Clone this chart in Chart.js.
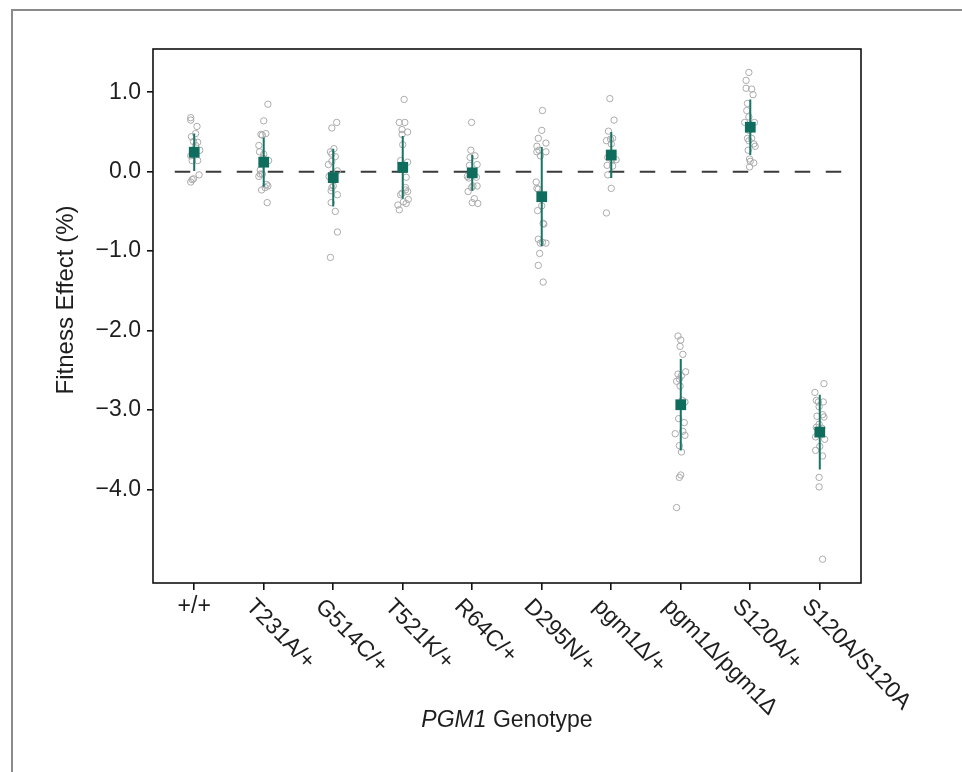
<!DOCTYPE html>
<html>
<head>
<meta charset="utf-8">
<script src="https://cdn.jsdelivr.net/npm/chart.js@4.4.1/dist/chart.umd.min.js"></script>
<style>
  html, body { margin: 0; padding: 0; background: #fff; }
  #wrap { position: relative; width: 962px; height: 772px; }
  #frame { position: absolute; left: 11px; top: 9px; right: 0; bottom: 0; border-top: 2px solid #8a8a8a; border-left: 2px solid #8a8a8a; pointer-events: none; }
  canvas { position: absolute; left: 0; top: 0; }
</style>
</head>
<body>
<div id="wrap">
  <canvas id="c" width="962" height="772"></canvas>
  <div id="frame"></div>
</div>
<script>
// ---- Data ----
const genotypes = ['+/+', 'T231A/+', 'G514C/+', 'T521K/+', 'R64C/+', 'D295N/+', 'pgm1Δ/+', 'pgm1Δ/pgm1Δ', 'S120A/+', 'S120A/S120A'];
const means = [0.245, 0.12, -0.075, 0.055, -0.015, -0.315, 0.21, -2.935, 0.56, -3.28];
const sds   = [0.235, 0.31, 0.365, 0.395, 0.225, 0.625, 0.29, 0.575, 0.35, 0.47];
const yTicks = [1, 0, -1, -2, -3, -4];

// replicate values per genotype
const replicates = [
  [0.68, 0.65, 0.57, 0.48, 0.44, 0.38, 0.37, 0.33, 0.27, 0.20, 0.14, 0.14, -0.04, -0.09, -0.10, -0.13],
  [0.85, 0.64, 0.48, 0.47, 0.46, 0.33, 0.25, 0.22, 0.17, 0.14, 0.02, -0.03, -0.06, -0.03, -0.16, -0.18, -0.20, -0.23, -0.39],
  [0.62, 0.55, 0.29, 0.25, 0.22, 0.19, 0.13, 0.09, 0.01, -0.06, -0.06, -0.18, -0.20, -0.24, -0.29, -0.39, -0.50, -0.76, -1.08],
  [0.91, 0.62, 0.62, 0.53, 0.50, 0.47, 0.34, 0.14, 0.12, -0.07, -0.20, -0.23, -0.25, -0.27, -0.29, -0.35, -0.38, -0.40, -0.42, -0.48],
  [0.62, 0.27, 0.20, 0.18, 0.09, 0.08, -0.06, -0.08, -0.07, -0.18, -0.18, -0.20, -0.25, -0.34, -0.39, -0.40],
  [0.77, 0.52, 0.42, 0.36, 0.32, 0.27, 0.25, 0.25, 0.20, -0.13, -0.21, -0.22, -0.43, -0.49, -0.65, -0.66, -0.85, -0.89, -0.90, -0.90, -1.03, -1.18, -1.39],
  [0.92, 0.65, 0.51, 0.42, 0.39, 0.41, 0.35, 0.18, 0.15, 0.15, 0.08, 0.07, -0.04, -0.21, -0.52],
  [-2.07, -2.12, -2.20, -2.30, -2.52, -2.55, -2.57, -2.61, -2.64, -2.70, -2.88, -2.90, -3.11, -3.16, -3.27, -3.30, -3.32, -3.45, -3.53, -3.82, -3.85, -4.23],
  [1.25, 1.15, 1.05, 1.04, 0.97, 0.86, 0.77, 0.69, 0.62, 0.62, 0.52, 0.42, 0.42, 0.39, 0.35, 0.32, 0.27, 0.16, 0.13, 0.11, 0.06],
  [-2.67, -2.78, -2.88, -2.90, -2.90, -2.96, -3.06, -3.08, -3.09, -3.18, -3.22, -3.23, -3.34, -3.37, -3.46, -3.51, -3.58, -3.85, -3.97, -4.88]
];
// horizontal jitter of each replicate (fraction of category spacing)
const jitter = [
  [-0.05, -0.05, 0.04, 0.02, -0.04, -0.01, 0.05, 0.02, 0.08, -0.05, -0.03, 0.05, 0.07, -0.01, -0.03, -0.05],
  [0.06, 0, 0.03, -0.04, -0.02, -0.07, -0.06, 0, -0.01, 0.07, -0.05, -0.05, -0.07, -0.02, 0.04, 0.06, 0.02, -0.03, 0.05],
  [0.05, -0.02, 0.01, -0.04, -0.02, 0.03, -0.02, -0.07, 0.06, -0.06, -0.01, 0, -0.02, -0.03, 0.06, -0.03, 0.03, 0.06, -0.04],
  [0.02, -0.05, 0.03, -0.01, 0.07, -0.01, 0, -0.03, 0.07, 0.05, 0.04, 0.04, 0.07, -0.01, -0.03, 0.08, 0.01, 0.05, -0.07, -0.05],
  [-0.01, -0.02, 0.04, -0.03, 0.07, -0.04, -0.07, -0.05, 0.06, 0.01, 0.07, -0.01, -0.06, 0.03, 0, 0.08],
  [0.01, 0, -0.05, 0.06, -0.07, -0.04, -0.07, 0.06, -0.02, -0.08, -0.07, -0.05, 0, -0.06, 0.02, 0.03, -0.05, 0.01, 0.06, -0.02, -0.03, -0.05, 0.02],
  [-0.02, 0.04, -0.04, 0.02, -0.07, -0.01, 0, -0.05, 0.07, 0.01, -0.06, 0.02, -0.05, 0, -0.07],
  [-0.04, 0, -0.01, 0.03, 0.07, -0.04, 0.01, -0.02, -0.06, -0.01, 0.02, 0.06, -0.03, 0.05, 0.03, -0.08, 0.06, -0.02, 0.01, 0, -0.02, -0.06],
  [-0.02, -0.06, -0.06, 0.02, 0.04, -0.04, -0.05, -0.02, -0.08, 0.06, -0.02, -0.04, 0.02, -0.02, 0.05, 0.07, -0.03, -0.01, 0, 0.05, -0.01],
  [0.06, -0.07, -0.05, -0.02, 0.05, -0.01, 0.04, -0.04, 0.06, -0.01, -0.05, 0.03, -0.06, 0.07, 0, -0.06, 0.04, -0.01, -0.01, 0.04]
];

// ---- Build datasets ----
const replicatePoints = [];
replicates.forEach((vals, i) => vals.forEach((v, k) => replicatePoints.push({ x: i + jitter[i][k], y: v })));
const meanPoints = means.map((m, i) => ({ x: i, y: m }));
const errorSegments = [];
means.forEach((m, i) => {
  errorSegments.push({ x: i, y: m - sds[i] }, { x: i, y: m + sds[i] }, { x: i, y: null });
});

const FONT = '"Liberation Sans", Arial, Helvetica, sans-serif';
const TEXT = '#1e1e1e';
const FS = 23;
const TITLE_FS = 24;
const LABEL_ANGLE = 45.5 * Math.PI / 180;

function fmt(v) { return v < 0 ? '\u2212' + Math.abs(v).toFixed(1) : v.toFixed(1); }

const decorPlugin = {
  id: 'decor',
  afterDraw(chart) {
    const { ctx, chartArea: a, scales } = chart;
    ctx.save();
    // plot box
    ctx.strokeStyle = '#111';
    ctx.lineWidth = 1.6;
    ctx.strokeRect(a.left, a.top, a.right - a.left, a.bottom - a.top);
    ctx.fillStyle = TEXT;
    const normal = FS + 'px ' + FONT, italic = 'italic ' + FS + 'px ' + FONT;
    ctx.font = normal;
    // x tick labels
    genotypes.forEach((g, i) => {
      const x = scales.x.getPixelForValue(i);
      ctx.save();
      if (i === 0) {
        ctx.translate(x, a.bottom + 12);
        ctx.textAlign = 'center';
        ctx.textBaseline = 'top';
        ctx.fillText(g, 0, 0);
      } else {
        ctx.translate(x - 6, a.bottom + 12);
        ctx.rotate(LABEL_ANGLE);
        ctx.textAlign = 'left';
        ctx.textBaseline = 'top';
        ctx.fillText(g, 0, 0);
      }
      ctx.restore();
    });
    // x title: PGM1 (italic) Genotype
    ctx.font = italic; const w1 = ctx.measureText('PGM1').width;
    ctx.font = normal; const w2 = ctx.measureText(' Genotype').width;
    const cx = (a.left + a.right) / 2;
    const sx = cx - (w1 + w2) / 2;
    ctx.textAlign = 'left';
    ctx.textBaseline = 'alphabetic';
    ctx.font = italic; ctx.fillText('PGM1', sx, 727);
    ctx.font = normal; ctx.fillText(' Genotype', sx + w1, 727);
    // y title
    ctx.save();
    ctx.translate(66, 300);
    ctx.rotate(-Math.PI / 2);
    ctx.textAlign = 'center';
    ctx.textBaseline = 'middle';
    ctx.font = TITLE_FS + 'px ' + FONT;
    ctx.fillText('Fitness Effect (%)', 0, 0);
    ctx.restore();
    ctx.restore();
  }
};

new Chart(document.getElementById('c'), {
  type: 'scatter',
  data: {
    datasets: [
      {
        type: 'scatter',
        data: meanPoints,
        pointStyle: 'rect',
        pointRadius: 7.6,
        pointHoverRadius: 7.6,
        backgroundColor: '#0f6d5d',
        borderColor: '#0f6d5d',
        borderWidth: 0,
        order: 0
      },
      {
        type: 'line',
        data: errorSegments,
        borderColor: '#167565',
        borderWidth: 2,
        pointRadius: 0,
        spanGaps: false,
        fill: false,
        order: 1
      },
      {
        type: 'scatter',
        data: replicatePoints,
        pointStyle: 'circle',
        pointRadius: 3.2,
        pointHoverRadius: 3.2,
        backgroundColor: 'rgba(0,0,0,0)',
        borderColor: '#ababab',
        borderWidth: 1,
        order: 2
      },
      {
        type: 'line',
        data: [{ x: -0.28, y: 0 }, { x: 9.4, y: 0 }],
        borderColor: '#3a3a3a',
        borderWidth: 2,
        borderDash: [15.5, 15.5],
        pointRadius: 0,
        fill: false,
        order: 3
      }
    ]
  },
  options: {
    responsive: false,
    animation: false,
    events: [],
    layout: { padding: { top: 49, right: 101, left: 0, bottom: 0 } },
    plugins: { legend: { display: false }, tooltip: { enabled: false } },
    scales: {
      x: {
        type: 'linear',
        min: -0.593,
        max: 9.593,
        afterBuildTicks: (s) => { s.ticks = genotypes.map((g, i) => ({ value: i })); },
        afterFit: (s) => { s.height = 189; },
        ticks: { callback: () => '', padding: 0 },
        grid: { drawOnChartArea: false, drawTicks: true, tickLength: 7, color: '#111', lineWidth: 1.6 },
        border: { display: false }
      },
      y: {
        type: 'linear',
        min: -5.18,
        max: 1.545,
        afterBuildTicks: (s) => { s.ticks = yTicks.map(v => ({ value: v })); },
        afterFit: (s) => { s.width = 153; },
        ticks: {
          padding: 6,
          color: TEXT,
          font: { family: FONT, size: FS },
          callback: (v) => fmt(v)
        },
        grid: { drawOnChartArea: false, drawTicks: true, tickLength: 6, color: '#111', lineWidth: 1.6 },
        border: { display: false }
      }
    }
  },
  plugins: [decorPlugin]
});
</script>
</body>
</html>
